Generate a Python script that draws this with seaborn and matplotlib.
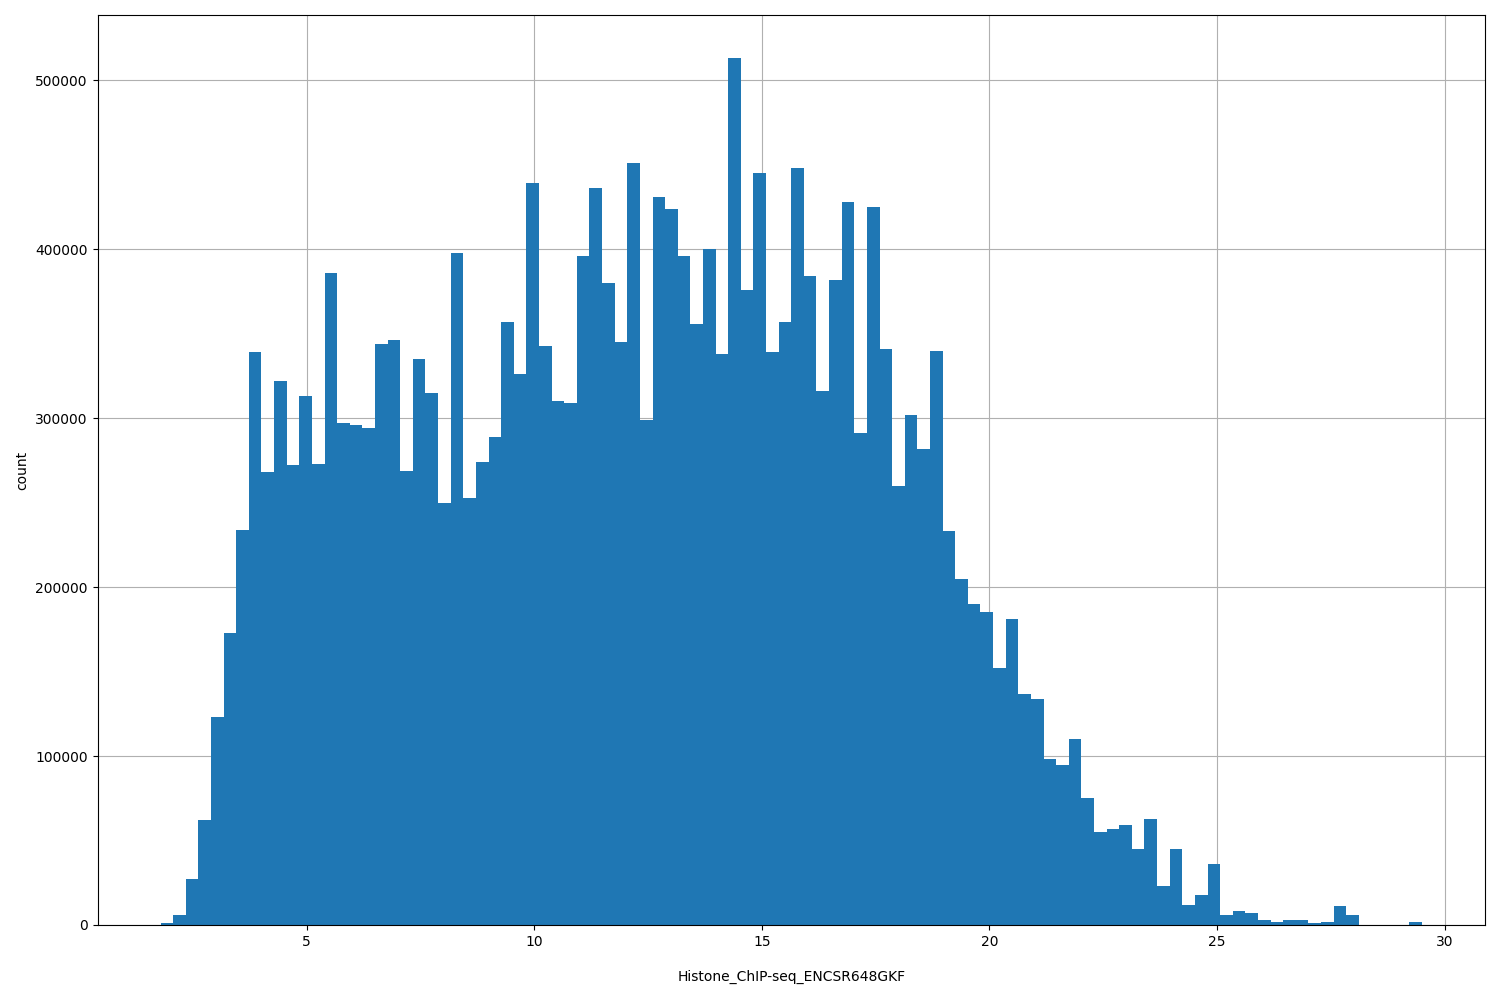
import matplotlib
matplotlib.use("Agg")
import matplotlib.pyplot as plt
import numpy as np
import pandas as pd
import seaborn as sns

# histogram range and bin count
x_min = 1.79
x_max = 29.5
n_bins = 100

counts = [
    1000, 6000, 27000, 62000, 123000, 173000, 234000, 339000, 268000, 322000,
    272000, 313000, 273000, 386000, 297000, 296000, 294000, 344000, 346000, 269000,
    335000, 315000, 250000, 398000, 253000, 274000, 289000, 357000, 326000, 439000,
    343000, 310000, 309000, 396000, 436000, 380000, 345000, 451000, 299000, 431000,
    424000, 396000, 356000, 400000, 338000, 513000, 376000, 445000, 339000, 357000,
    448000, 384000, 316000, 382000, 428000, 291000, 425000, 341000, 260000, 302000,
    282000, 340000, 233000, 205000, 190000, 185000, 152000, 181000, 137000, 134000,
    98000, 95000, 110000, 75000, 55000, 57000, 59000, 45000, 63000, 23000,
    45000, 12000, 18000, 36000, 6000, 8000, 7000, 3000, 2000, 3000,
    3000, 1000, 2000, 11000, 6000, 0, 0, 0, 0, 2000,
]

edges = np.linspace(x_min, x_max, n_bins + 1)
df = pd.DataFrame({"value": (edges[:-1] + edges[1:]) / 2, "count": counts})

fig, ax = plt.subplots(figsize=(15, 10), dpi=100)
sns.histplot(data=df, x="value", weights="count", bins=n_bins,
             binrange=(x_min, x_max), ax=ax,
             color="#1f77b4", alpha=1, edgecolor="none", linewidth=0)
ax.set_axisbelow(True)
ax.grid(True, color="#b0b0b0", linewidth=0.8)
ax.set_xlabel("Histone_ChIP-seq_ENCSR648GKF", labelpad=15)
ax.set_ylabel("count")
plt.subplots_adjust(left=0.065, right=0.99, top=0.985, bottom=0.075)
fig.savefig("out.png")
